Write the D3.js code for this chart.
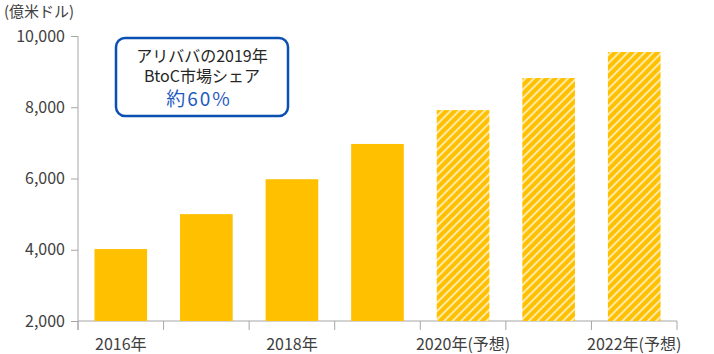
<!DOCTYPE html>
<html>
<head>
<meta charset="utf-8">
<script src="https://cdn.jsdelivr.net/npm/d3@7"></script>
<style>
  body { margin: 0; background: #fff; }
  svg text { font-family: "Noto Sans CJK JP", "Noto Sans", sans-serif; }
</style>
</head>
<body>
<svg id="chart" width="714" height="354"></svg>
<script>
// data
var years = ["2016", "2017", "2018", "2019", "2020", "2021", "2022"];
var values = [4020, 5000, 5980, 6970, 7920, 8820, 9550];
var forecast = [false, false, false, false, true, true, true];
var xLabels = ["2016年", "", "2018年", "", "2020年(予想)", "", "2022年(予想)"];
var yTicks = [2000, 4000, 6000, 8000, 10000];
var unitLabel = "(億米ドル)";
var noteLines = ["アリババの2019年", "BtoC市場シェア", "約60%"];

function drawChart() {
    var svg = d3.select("#chart");
    var plotLeft = 78, plotRight = 677, plotTop = 36, plotBottom = 321;
    var axisColor = "#a6a6a6", textColor = "#404040";

    var yScale = d3.scaleLinear().domain([2000, 10000]).range([plotBottom, plotTop]);

    var xScale = d3.scaleBand()
        .domain(years)
        .range([plotLeft, plotRight])
        .paddingInner(0.385)
        .paddingOuter(0.1925);
    var step = xScale.step();

    // hatched pattern for forecast years
    var defs = svg.append("defs");
    var pat = defs.append("pattern")
        .attr("id", "hatch")
        .attr("patternUnits", "userSpaceOnUse")
        .attr("width", 6)
        .attr("height", 6)
        .attr("patternTransform", "rotate(45)");
    pat.append("rect").attr("width", 6).attr("height", 6).attr("fill", "#FFC000");
    pat.append("rect").attr("x", 0).attr("width", 2).attr("height", 6).attr("fill", "#FFE9A6");

    // y axis
    var yAxis = d3.axisLeft(yScale)
        .tickValues(yTicks)
        .tickSize(7)
        .tickFormat(d3.format(","));
    var gy = svg.append("g")
        .attr("transform", "translate(" + plotLeft + ",0)")
        .call(yAxis);
    gy.select(".domain").remove();
    gy.selectAll(".tick line").attr("stroke", axisColor);
    gy.selectAll(".tick text")
        .attr("x", -13)
        .attr("fill", textColor)
        .style("font-size", "16px");
    gy.append("line")
        .attr("x1", 0).attr("x2", 0)
        .attr("y1", plotTop).attr("y2", plotBottom + 9)
        .attr("stroke", axisColor);

    // x axis
    var gx = svg.append("g");
    gx.append("line")
        .attr("x1", plotLeft).attr("x2", plotRight)
        .attr("y1", plotBottom).attr("y2", plotBottom)
        .attr("stroke", axisColor);
    gx.selectAll("line.tk")
        .data(d3.range(years.length + 1))
        .enter().append("line")
        .attr("class", "tk")
        .attr("x1", function(i) { return plotLeft + i * step; })
        .attr("x2", function(i) { return plotLeft + i * step; })
        .attr("y1", plotBottom)
        .attr("y2", plotBottom + 9)
        .attr("stroke", axisColor);
    gx.selectAll("text")
        .data(years)
        .enter().append("text")
        .attr("x", function(d) { return xScale(d) + xScale.bandwidth() / 2; })
        .attr("y", 350)
        .attr("text-anchor", "middle")
        .attr("fill", textColor)
        .style("font-size", "16px")
        .text(function(d, i) { return xLabels[i]; });

    // bars
    svg.append("g").selectAll("rect")
        .data(years)
        .enter().append("rect")
        .attr("x", function(d) { return xScale(d); })
        .attr("y", function(d, i) { return yScale(values[i]); })
        .attr("width", xScale.bandwidth())
        .attr("height", function(d, i) { return plotBottom - yScale(values[i]); })
        .attr("fill", function(d, i) { return forecast[i] ? "url(#hatch)" : "#FFC000"; });

    // unit label
    svg.append("text")
        .attr("x", 4)
        .attr("y", 17)
        .attr("fill", textColor)
        .style("font-size", "15px")
        .text(unitLabel);

    // annotation box, one text block with three lines
    svg.append("rect")
        .attr("x", 116).attr("y", 38)
        .attr("width", 172).attr("height", 78)
        .attr("rx", 9)
        .attr("fill", "#fff")
        .attr("stroke", "#0B4FB0")
        .attr("stroke-width", 2.5);
    var note = svg.append("text")
        .attr("text-anchor", "middle")
        .attr("fill", "#262626")
        .style("font-size", "16px");
    note.append("tspan").attr("x", 202).attr("y", 62).text(noteLines[0]);
    note.append("tspan").attr("x", 202).attr("y", 82).text(noteLines[1]);
    note.append("tspan").attr("x", 199).attr("y", 106)
        .attr("fill", "#1F5BBF")
        .style("font-size", "19px")
        .style("letter-spacing", "2px")
        .text(noteLines[2]);
}

drawChart();
</script>
</body>
</html>
